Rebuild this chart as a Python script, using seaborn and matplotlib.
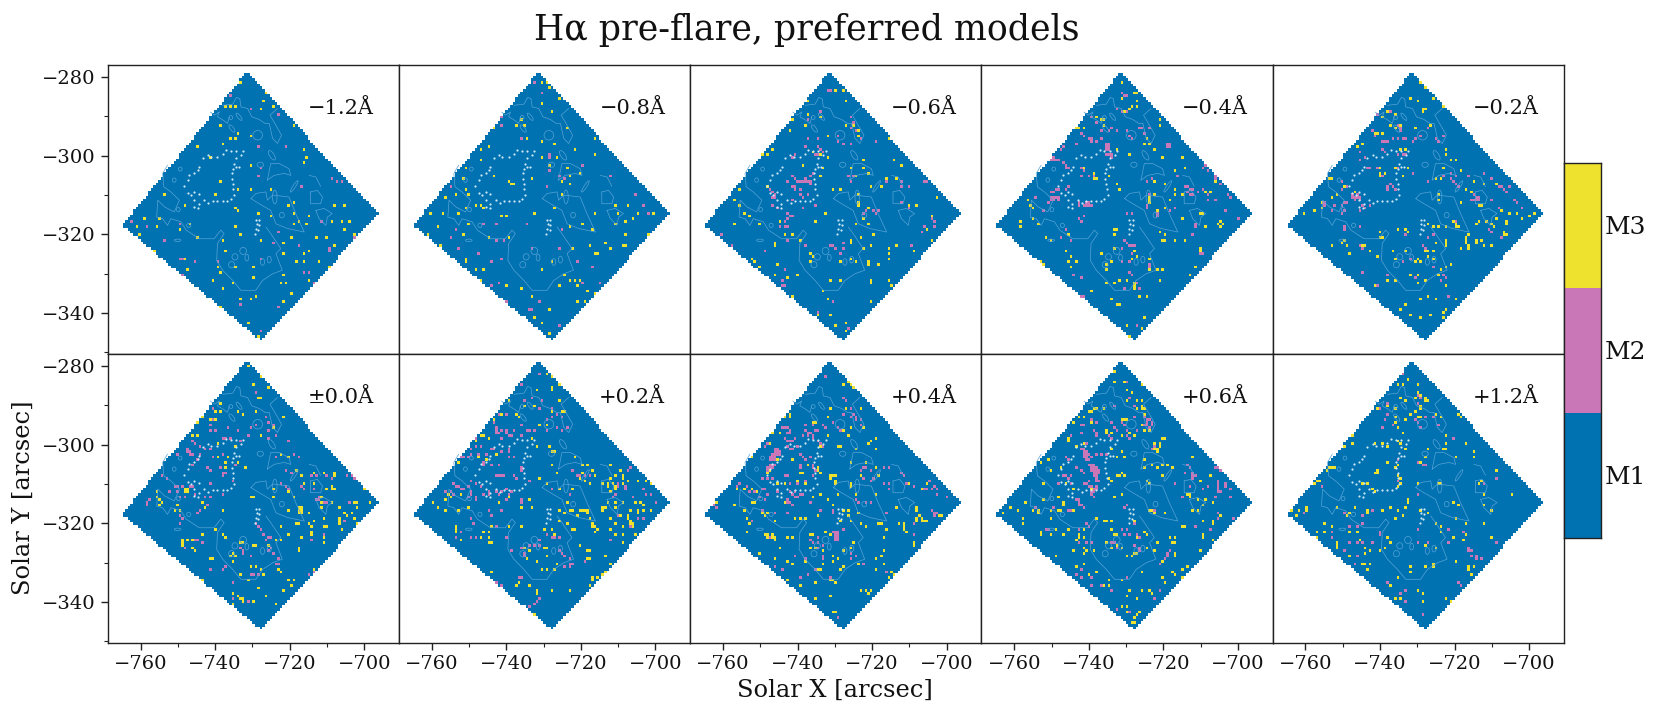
import numpy as np
import pandas as pd
import matplotlib
matplotlib.use("Agg")
import matplotlib.pyplot as plt
import seaborn as sns
from matplotlib.colors import ListedColormap
from matplotlib.patches import Ellipse
from matplotlib.path import Path

# field of view, solar coordinates in arcsec
xlim = (-768.85, -690.7)
ylim = (-350.35, -276.95)
diamond_x = [-764.9, -731.4, -696.2, -727.7]
diamond_y = [-317.7, -278.6, -314.8, -347.1]

x_major = [-760, -740, -720, -700]
x_minor = [-750, -730, -710]
y_major = [-280, -300, -320, -340]
y_minor = [-290, -310, -330, -350]

labels = ["−1.2Å", "−0.8Å", "−0.6Å", "−0.4Å", "−0.2Å", "±0.0Å", "+0.2Å", "+0.4Å", "+0.6Å", "+1.2Å"]
models = ["M1", "M2", "M3"]
colors = ["#0072B2", "#C977B7", "#EEE22E"]

# M3 (yellow) and M2 (pink) pixels, everything else is M1
m3_n12 = [(-733,-281.7),(-726.7,-283.8),(-727.1,-286.3),(-737.3,-287.4),(-735.8,-287.4),(-734.4,-287.4),(-728,-288.4),(-724.2,-287.4),
(-718.6,-292.5),(-738.6,-292.5),(-734,-294.2),(-736.2,-295.5),(-734.6,-295.5),(-730.6,-294.8),(-746.5,-295.6),(-738,-296.7),(-744.9,-297.6),
(-716.4,-298.2),(-715.2,-300.6),(-741,-300.7),(-716.4,-302),(-730.6,-302.3),(-738.8,-306.8),(-733.6,-308.5),(-730.6,-308.5),(-724.8,-308.5),
(-753.5,-310.2),(-739.8,-310.2),(-748.3,-312.6),(-734.6,-313.3),(-733.6,-314.3),(-720.2,-312.6),(-718.8,-311.7),(-728.4,-314.9),(-724.8,-315.4),
(-719,-314.9),(-717.6,-316.4),(-714.6,-315.4),(-707.9,-312.6),(-705,-312.6),(-715.7,-317.7),(-719.1,-317.1),(-708.9,-316.4),(-706.2,-316.4),
(-704,-317),(-758.7,-316),(-755.2,-316),(-761,-318.3),(-755.4,-317.8),(-749.2,-318.5),(-747,-317.2),(-760.4,-320),(-744.7,-320.5),(-734.4,-318.4),
(-733.5,-320),(-705,-319),(-713,-321),(-710.3,-321),(-708.3,-322.5),(-702.7,-320.4),(-719.7,-320.5),(-721.9,-322),(-727.8,-321.7),(-737.6,-321.7),
(-756.4,-323.9),(-737.3,-324.5),(-721.5,-324.6),(-715.9,-324.6),(-714.5,-324.5),(-748.3,-326.2),(-718.1,-326.7),(-716.3,-327.2),(-711.8,-326.8),
(-747.6,-329),(-739,-328),(-734.6,-328.3),(-730,-328.1),(-738.9,-329.5),(-740.8,-331.4),(-730,-330.8),(-721.9,-330.6),(-722,-332.5),(-720.8,-332.5),
(-738,-333.4),(-735.2,-332.1),(-719.7,-334.8),(-733.4,-336.6),(-730.7,-336.5),(-729.4,-336),(-721.9,-337),(-738.9,-338.4),(-731.3,-342.7),
(-728.4,-345.6),(-714.9,-331.5),(-709.6,-328)]
m2_n12 = [(-736.2,-284.5),(-730.6,-288),(-723.3,-289.7),(-728.4,-297.6),(-720.7,-297.6),(-727.6,-303.3),(-728.4,-305.1),(-717,-308),(-708.4,-305.6),
(-707.2,-306.8),(-706.1,-306.8),(-718.7,-312),(-762.6,-316.7),(-758,-318.3),(-749.4,-317.3),(-761.4,-320.5),(-753.5,-321.2),(-749.4,-326.4),
(-748.8,-326.4),(-745.6,-327.2),(-739.6,-327),(-749,-330.1),(-727.5,-326.3),(-724.2,-322.1),(-722.7,-319.5),(-717.6,-322.8),(-709.6,-324.2),
(-709.6,-323.6),(-705.1,-324.6),(-702.5,-321),(-716.2,-329.7),(-714.6,-329.7),(-713.7,-332.3),(-733,-337.6),(-722.7,-338.3),(-727.6,-344.5),(-711.1,-316.4)]

m3_n08 = [(-730.6,-281.7),(-728.8,-281.7),(-728.3,-282.9),(-725.4,-285.5),(-730.5,-286.8),(-727.7,-289),(-740.2,-286.8),(-739,-286.8),(-742.6,-291.4),
(-743.7,-293.1),(-737.5,-292.4),(-736.1,-290.7),(-735.4,-292.4),(-734.9,-292.4),(-734.5,-295.6),(-723.8,-293.1),(-730.5,-296.5),(-726.9,-296.9),
(-721.9,-298.2),(-716.2,-295.9),(-716.2,-299.5),(-746.6,-298.2),(-744.6,-297.4),(-746.6,-301),(-751,-302.8),(-730.2,-300.2),(-726.6,-300.2),
(-723.8,-303.1),(-720.1,-304.2),(-728.3,-302.4),(-743.1,-305.2),(-739.5,-306.2),(-738.8,-307.5),(-738.2,-307.5),(-733.5,-305.7),(-723.2,-305.4),
(-724.8,-306.4),(-722.8,-307.5),(-751.3,-305.7),(-750.6,-308.5),(-753.3,-310.2),(-756.2,-310.9),(-750.3,-310),(-750.9,-313),(-748.2,-312.6),
(-747.1,-312.6),(-746.4,-313.6),(-760.2,-314.9),(-756.9,-314.9),(-752.7,-314.9),(-741.3,-315.6),(-732.8,-314.6),(-758.4,-318.3),(-750,-317.7),
(-751.6,-320.2),(-761.3,-320.2),(-757.8,-322.9),(-739.9,-315.6),(-724.8,-310),(-719.6,-317.2),(-722.8,-318),(-717.2,-318.8),(-727,-313),
(-716.2,-314.8),(-711,-312.6),(-707.2,-312.6),(-704.4,-314.6),(-709.8,-315),(-711,-317.4),(-708,-316.6),(-705.8,-315.8),(-700.8,-314.8),
(-708.2,-320.4),(-702.2,-320.4),(-708.8,-322.8),(-708,-322.8),(-713.4,-322.2),(-711.8,-323.2),(-703.8,-322.8),(-716.4,-324.8),(-715.8,-324.8),
(-717.6,-322.6),(-722.6,-323.4),(-744.6,-320.6),(-739.2,-321),(-754,-326.2),(-751,-327),(-750.6,-326.4),(-748.2,-329),(-745.8,-329),(-730.6,-329.2),
(-727.4,-327),(-724,-330),(-723,-331.6),(-721.4,-331.8),(-720,-331.4),(-720.8,-333),(-726,-332.8),(-718.2,-334.2),(-716,-335),(-736.2,-334),(-733.4,-335.8),
(-721.2,-337.4),(-718.6,-337),(-718.2,-337.8),(-728.6,-339),(-732.8,-341),(-730.4,-342.7),(-728.6,-345.2),(-746.6,-331.8),(-740.2,-332.8)]
m2_n08 = [(-732.4,-281.7),(-730.4,-284),(-741,-290.3),(-741.6,-292),(-736,-295.3),(-728.3,-300),(-728.3,-300.7),(-728.3,-303.6),(-726,-305.2),(-725.4,-305.2),
(-719.6,-302.6),(-724,-305.8),(-712,-305.2),(-755,-307.6),(-729.1,-307.7),(-705.2,-310.2),(-703.4,-312.8),(-702.2,-315),(-746,-317.4),(-742.4,-317.6),
(-734.4,-317.4),(-753.8,-319),(-755,-320.6),(-742.6,-321.2),(-740.6,-321.2),(-725,-319),(-733,-323.4),(-726,-323.2),(-752.8,-323.2),(-744.2,-327),(-741.6,-326),
(-747.4,-324.6),(-721.2,-326.6),(-716.8,-328),(-705.2,-325),(-749.2,-332),(-743.8,-332.8),(-742.2,-332.2),(-733.8,-339),(-733.4,-339),(-731.2,-337.2),
(-725.6,-343.2),(-719.8,-332.6),(-714.8,-332.6),(-740,-336.8)]

m3_n06 = [(-729.8,-283.4),(-727.4,-283.6),(-727,-286.2),(-737.5,-285.8),(-742.6,-289.1),(-737,-289.2),(-741.2,-291),(-738,-292.4),(-742,-293.4),(-733.6,-290.3),
(-731.6,-295.1),(-727,-292.4),(-725,-292.4),(-723.4,-293.4),(-723.4,-295),(-715.8,-295.6),(-746.6,-298.2),(-749.5,-300),(-747.8,-300),(-731.8,-300.4),
(-735.6,-299.1),(-734,-300),(-725.5,-303.2),(-722.4,-303.2),(-733.3,-302.8),(-738.6,-302.4),(-722.4,-301.4),(-720.8,-304.5),(-716.1,-305.6),(-713.8,-305.5),
(-714.2,-300.8),(-712.2,-302.2),(-755.8,-308.4),(-747.8,-307.6),(-733.6,-305.2),(-724,-305.4),(-720,-308),(-717.6,-308),(-730.6,-308.6),(-728.4,-308.6),
(-723.4,-309.6),(-723.4,-312),(-723.6,-312.7),(-720.8,-313.5),(-722.2,-316),(-710,-312.6),(-708,-312.6),(-702.5,-310.4),(-757.2,-311.2),(-755.6,-312.6),
(-754.5,-314.4),(-753,-315.6),(-750,-317.2),(-757,-317.6),(-744.8,-316.4),(-743.4,-319.8),(-741,-320),(-739.4,-321.4),(-746,-321.9),(-746,-323),(-732.6,-314.6),
(-735,-316.8),(-724,-317.4),(-721,-317.5),(-719.8,-320),(-723.2,-320.8),(-725.6,-321.2),(-725.6,-322.4),(-722.4,-323.6),(-720.2,-322.7),(-715.4,-323.8),
(-715.4,-324.8),(-713.2,-322.6),(-708.8,-324.5),(-703.8,-321.4),(-705.6,-318.5),(-704.2,-315.2),(-752,-326.4),(-751.8,-327),(-750,-328.4),(-745.4,-327.4),
(-736.6,-325.2),(-736.6,-326.6),(-736,-325.6),(-728.4,-327.2),(-725.6,-326.3),(-724.2,-327),(-721,-327),(-721,-327.8),(-718,-327.4),(-715.8,-326.4),
(-742.8,-331),(-739.8,-330.3),(-746.2,-330),(-731,-331.8),(-728.2,-331.9),(-720.2,-331.9),(-720.2,-332.6),(-715.4,-332),(-714.8,-333.3),(-733,-334.4),
(-741.2,-335.6),(-731.8,-336.6),(-720.4,-337.4),(-719.4,-339),(-734.6,-340.6),(-731.4,-340.6),(-729.8,-342.9),(-727.2,-342.8),(-732.8,-345.2),(-727,-344.5)]
m2_n06 = [(-732,-283.4),(-731,-283.4),(-733.6,-289),(-737,-291),(-725.6,-290.5),(-725,-291.5),(-725.8,-293.1),(-724.2,-293.4),(-723,-295.5),(-729.4,-294.8),
(-728.8,-296),(-727.8,-296.7),(-726,-297),(-719,-296.2),(-737,-295.6),(-734.6,-295.5),(-737.7,-297.4),(-734.2,-298),(-733.8,-298.4),(-734.5,-299.4),(-735.2,-299.4),
(-733.4,-298.8),(-741.4,-300.2),(-740.6,-299.8),(-741.6,-305.2),(-740.4,-306),(-739.8,-306.6),(-739.2,-306.6),(-738.6,-306.8),(-738,-306.8),(-738,-306),
(-737.2,-306.4),(-736.6,-306.5),(-736.6,-307.2),(-736.6,-305.2),(-736.2,-304.8),(-741,-307.8),(-740.4,-307.8),(-742.4,-306.8),(-740.4,-308.5),(-739.4,-308.5),
(-747.6,-308.5),(-746.8,-309.4),(-746,-310),(-746,-310.8),(-747,-310.8),(-746.6,-312.6),(-745.4,-313.4),(-741.6,-311),(-739.2,-310),(-738.5,-310.6),(-737.4,-309.6),
(-741,-315.6),(-742,-315.6),(-743,-316),(-743.6,-316.7),(-742.4,-314.6),(-738.4,-313.2),(-735.5,-312.8),(-744.4,-318),(-743.6,-318),(-742.8,-318),
(-731.2,-323),(-730.6,-323),(-730,-323.2),(-727.4,-323.4),(-728.4,-325),(-727.8,-321.9),(-726.6,-305.2),(-725.2,-305),(-726,-306.4),(-721.8,-314),(-722,-315),
(-719.6,-314.2),(-719,-314.6),(-716.2,-306.6),(-712,-306.8),(-712,-307.8),(-710.4,-308.2),(-712.4,-312),(-710.2,-313.2),(-705.8,-306.2),(-705.2,-306.6),
(-704,-315.8),(-703,-316.7),(-703,-318),(-706,-318.2),(-707,-319.4),(-760.4,-320),(-757.6,-323),(-737.6,-322.6),(-743,-321.2),(-749,-324.4),(-743.6,-329),
(-744.2,-331.6),(-744.2,-332.7),(-743.4,-333),(-709.6,-322.8),(-718.2,-313.9),(-726.7,-343.6),(-726.7,-344.2),(-730.6,-337.3),(-734.3,-339.5)]

m3_n04 = [(-730.8,-281.6),(-728,-284.2),(-727.2,-284.4),(-730.9,-285.6),(-727,-286.4),(-727,-287.2),(-729,-288.2),(-728.2,-287.6),(-730.6,-288.8),(-739.4,-286.6),
(-741.4,-287.6),(-737.6,-290.4),(-736.6,-290.8),(-735.6,-290.8),(-736.2,-292.2),(-721,-290.8),(-720.8,-292),(-743.6,-293),(-742.4,-293),(-741.2,-292.8),
(-724.2,-295.6),(-723.6,-296.7),(-724.8,-297.2),(-722.6,-298.2),(-720,-300.6),(-714.6,-300.6),(-714.4,-303.2),(-716.8,-304),(-729,-299.6),(-732.5,-298.3),
(-738.8,-304.6),(-737.6,-306),(-738.8,-306),(-741,-303.4),(-734.2,-305),(-732.8,-307),(-731.8,-308.5),(-722,-306.4),(-719.8,-307.2),(-717,-308.4),
(-722.4,-310.2),(-723.8,-310.4),(-723.8,-311),(-723.8,-311.8),(-717,-309.8),(-718,-311.4),(-714.8,-309.8),(-709,-309.2),(-707.6,-309.2),(-706,-306.4),
(-756.4,-311.6),(-755.4,-312.4),(-755,-313.4),(-719.8,-313.6),(-721.8,-314),(-715,-316.2),(-710.4,-314.8),(-709.2,-314.6),(-704.6,-316.6),(-704.2,-317.6),
(-705.2,-317.6),(-704.6,-318.3),(-708.6,-318),(-758,-317),(-758,-318.3),(-753.6,-317.2),(-755.2,-316),(-751.8,-321),(-750.4,-321.2),(-745.6,-320.4),
(-733.4,-319),(-732.4,-319),(-733,-320),(-721,-319.6),(-719.6,-320.2),(-720,-321.4),(-719.4,-321.4),(-716.8,-321.4),(-710,-323.4),(-710,-324.5),(-746,-324),
(-744.6,-325.6),(-752,-327.4),(-752.6,-326.8),(-745.2,-327),(-743.6,-326.8),(-744.8,-328.4),(-736.4,-325),(-735.4,-327.4),(-735.4,-329),(-733.6,-327.2),
(-733,-323.8),(-727.8,-324.4),(-726.8,-325.4),(-728.2,-326.3),(-723.6,-326.3),(-721.6,-329),(-720.3,-329),(-723.8,-329.2),(-731.8,-331.4),(-730,-332),
(-733.2,-332.6),(-728,-332.6),(-727.8,-333.2),(-727.4,-333.6),(-735.4,-332.4),(-721,-331.5),(-712.8,-330.4),(-739,-334.6),(-733.8,-336.6),(-731.7,-337.8),
(-726.4,-336),(-724.5,-336),(-736.5,-342.7),(-736,-343.6),(-730,-343),(-729,-346),(-732.4,-337.6),(-726,-343.6),(-724.8,-341),(-714,-321.2),(-711.4,-328.4)]
m2_n04 = [(-730.8,-283.8),(-730.4,-284.6),(-730,-285),(-732.4,-288.2),(-731.2,-288.6),(-730,-288.8),(-739.4,-290),(-737.8,-291.6),(-736.4,-293.4),(-734.6,-293.4),
(-733.8,-292.6),(-732.2,-293.6),(-729.6,-293.4),(-729.2,-294.8),(-728.4,-295.6),(-726.6,-293),(-725.6,-292.6),(-725,-294),(-723.4,-293.2),(-742,-294.4),(-741.4,-295),
(-740.2,-295.4),(-739.6,-295.6),(-739.2,-296.6),(-738,-296),(-736.6,-295.8),(-743.4,-296.8),(-746.6,-297.6),(-747.6,-298.2),(-735,-297.3),(-734.4,-297.3),
(-735,-298),(-734.4,-298),(-735,-298.6),(-734.4,-298.6),(-735,-299.4),(-734.4,-299.4),(-733.8,-299.4),(-735,-300),(-734.4,-300),(-733.8,-300.6),(-718.8,-297),
(-718.2,-297),(-718.8,-297.6),(-718.2,-297.6),(-750,-300.2),(-749.4,-300.2),(-750,-300.8),(-749.4,-300.8),(-750,-301.4),(-749.4,-301.4),(-748.8,-301.4),
(-747.8,-301.4),(-747,-301.8),(-746.4,-302.4),(-746,-303),(-745.6,-303.4),(-742.2,-303),(-741.6,-304),(-742,-305),(-740,-305.4),(-738.6,-305),(-708.8,-302.6),
(-709.4,-303.2),(-708.2,-303.6),(-722.8,-305.8),(-724.4,-306.4),(-716,-305.2),(-748,-308.4),(-749,-308.8),(-749.6,-309.2),(-750.4,-309.2),(-746.4,-308.4),
(-745.4,-307.6),(-750,-310.4),(-749.4,-310.4),(-748.8,-310.4),(-748.2,-310.4),(-748.2,-311),(-749.4,-311.4),(-750,-311.4),(-750.8,-312),(-743,-312),(-742.4,-312.6),
(-741,-312.8),(-740.4,-312.8),(-739.8,-312.8),(-739.2,-312.4),(-740.4,-312.2),(-739.8,-312.2),(-752,-313.8),(-754,-310.6),(-741.4,-315.6),(-742.8,-316),
(-742.2,-317),(-729.6,-314.8),(-728.6,-314.4),(-724.6,-313),(-724,-312.8),(-723.8,-310),(-721.8,-313.8),(-721.8,-315),(-721.8,-315.6),(-718,-314),(-717,-313.2),
(-714.2,-308),(-713.4,-308),(-712.8,-308.6),(-713.4,-309.2),(-712.6,-309.6),(-712,-310),(-711.8,-308.6),(-710.6,-309),(-709.4,-308.4),(-708,-310),(-706,-305.4),
(-706,-306),(-704.6,-307),(-702.8,-309.6),(-701.8,-310.4),(-708.2,-311.6),(-705.8,-311.6),(-703,-314.2),(-700,-316),(-711.4,-317.4),(-711.4,-318),(-711.8,-320),
(-730.4,-321.4),(-729.6,-322.2),(-729,-322.8),(-728.2,-323),(-727.4,-323),(-731,-323.8),(-728.6,-324.8),(-710.2,-324.6),(-709.4,-324.6),(-709.4,-325.2),
(-747.4,-320.8),(-746,-318.6),(-744.8,-321.8),(-731,-327.2),(-729,-327),(-723.6,-327.6),(-723.4,-328.4),(-729,-329.4),(-728.4,-330),(-727,-332.6),(-726.5,-333.5),
(-743.8,-330),(-742,-331),(-741.8,-335.6),(-741.2,-336),(-741.8,-336.4),(-730.6,-333.6),(-727,-343.4)]

m3_n02 = [(-728.6,-281.7),(-729.2,-281.7),(-727.4,-283),(-732,-285.4),(-730,-286.2),(-725.8,-285.2),(-723.2,-287.2),(-728.5,-288.2),(-728,-288),(-727.5,-288),
(-728.5,-289),(-737.8,-289),(-739,-290.2),(-735.8,-289.4),(-737.2,-292.2),(-736.2,-293.2),(-734.2,-292),(-730.6,-292.8),(-718.8,-291),(-726.7,-292.2),
(-741.4,-294.2),(-740.6,-294.6),(-739.4,-294.6),(-748,-298),(-746,-297.8),(-744.4,-297),(-722.6,-298.4),(-722.2,-299.4),(-734.4,-298.4),(-733.4,-298.4),
(-720.8,-301.2),(-719.4,-301.2),(-732.8,-303.2),(-739.8,-303),(-740,-304.2),(-738.6,-304.2),(-739.8,-305),(-736,-303),(-733.8,-305),(-722.8,-303.4),(-723.8,-306),
(-753.8,-305.6),(-752.6,-305.6),(-725,-306),(-718,-303.8),(-715,-306.6),(-712.4,-307.4),(-712,-307.4),(-716.8,-308.6),(-715.4,-309.4),(-708.8,-307.2),
(-749.8,-308.2),(-751.4,-309.8),(-746.8,-309.4),(-753,-310.6),(-724.6,-310),(-724.6,-311),(-724.6,-311.6),(-718.2,-312.2),(-713,-312.4),(-713.2,-312.4),
(-755.6,-312.2),(-755.6,-313),(-757.8,-314),(-760.4,-315),(-707.6,-313.8),(-705.2,-314.6),(-703,-314.6),(-708.4,-316),(-706.2,-316.6),(-706,-317.4),(-702.2,-316.2),
(-698.2,-314.8),(-700,-315.4),(-733,-318.6),(-735,-318.8),(-732.2,-319.2),(-727,-317.6),(-725.8,-318.4),(-724,-318.4),(-722.2,-318),(-720,-316.6),(-719.5,-317.2),
(-718.6,-317.8),(-719.6,-318),(-714,-317.6),(-713.2,-317),(-711.4,-316.8),(-710,-317.6),(-709.6,-318),(-706.6,-319.6),(-706.4,-320.2),(-705.8,-320.4),(-716,-320),
(-716.6,-320.8),(-717,-321.6),(-717,-322.2),(-715.9,-322.6),(-715.9,-323.2),(-718,-323.4),(-714.2,-321.4),(-714,-322.4),(-712.6,-321.6),(-712.4,-322.8),(-710,-323),
(-739.8,-319.6),(-739.4,-320.8),(-740.2,-321),(-749.8,-321.6),(-749,-322.8),(-750,-322),(-752.8,-322.6),(-744.2,-322.8),(-744.8,-323),(-743,-324.4),(-736.8,-324.4),
(-735.8,-326.2),(-733,-324.4),(-728,-324),(-726.8,-324),(-725.6,-324.2),(-729,-326.6),(-730,-326.4),(-730.2,-327.2),(-727.2,-325.6),(-725.6,-326.2),(-722,-321.2),
(-722,-322),(-722,-322.8),(-725.2,-322),(-748,-324.6),(-754.4,-326.2),(-740.4,-325.6),(-720.8,-327.6),(-722.6,-328),(-723.6,-329),(-724.2,-330),(-731.6,-330.4),
(-729.6,-330.4),(-728,-331.6),(-730,-332.6),(-722.4,-333.2),(-741.6,-333),(-738.2,-331.4),(-735.6,-331.4),(-729.2,-336.6),(-726.8,-336),(-725,-336.2),(-733,-337.5),
(-719.4,-336.4),(-722.6,-339),(-722.8,-340),(-722.8,-341),(-734.8,-339),(-731.5,-340.2),(-726.4,-340.5),(-729.3,-341.5)]
m2_n02 = [(-737.4,-289),(-740.4,-289.8),(-735.2,-292.4),(-734.4,-292.6),(-734.2,-293.4),(-742.2,-293.4),(-741,-295),(-739.6,-296),(-738.8,-296.4),(-737.8,-296.4),
(-736.6,-295.6),(-735.4,-295.6),(-733.8,-295.5),(-733.2,-295.4),(-731,-296),(-730.2,-295.6),(-729.2,-295.2),(-726.8,-293),(-725,-295.4),(-724,-296),(-723,-295),
(-749,-298),(-747.6,-297.2),(-745.4,-298.8),(-745.4,-301),(-743.8,-300.4),(-739.2,-298.4),(-738.6,-298.8),(-735,-299.8),(-734,-299.8),(-733,-300),(-742.6,-302.8),
(-743.4,-303.4),(-740.4,-303),(-739.2,-305),(-735,-303.4),(-731,-304.4),(-721.2,-304.6),(-721,-306),(-727,-306.2),(-722.8,-305.2),(-719.6,-305),(-720,-306.6),(-719.4,-307.4),
(-718.8,-307.8),(-716,-305),(-711.8,-304.6),(-710,-306),(-708.2,-308),(-707.4,-308.2),(-706.8,-308.8),(-706.2,-309.4),(-705.4,-307.6),(-750.4,-306.8),(-749,-308.2),
(-750.4,-308.6),(-738,-307.8),(-737.2,-307.4),(-736.6,-307.6),(-738.2,-308.6),(-736,-308.4),(-747.4,-310),(-746.8,-310.4),(-746.2,-310),(-745.6,-310.4),(-747.2,-310.8),
(-746.2,-310.8),(-746.8,-311.4),(-745.2,-311),(-749.6,-311.8),(-749,-312.2),(-752,-312.4),(-750.2,-312.8),(-745,-312.8),(-744,-313.2),(-742.6,-312.6),(-745.2,-314),
(-755,-311.8),(-755.2,-312.8),(-752.6,-314),(-749.4,-313.8),(-750,-315),(-714.8,-310),(-714.2,-310.4),(-713.4,-310.6),(-714.8,-311),(-714.2,-311.2),(-713.4,-311.4),
(-715.6,-311.6),(-710.2,-311.4),(-708.2,-313),(-704,-311.2),(-703.2,-312),(-702,-313.4),(-703.4,-315),(-719.6,-316.4),(-719.5,-317),(-711,-319),(-710.2,-319.6),
(-707.2,-320.8),(-749.8,-317.8),(-749.6,-318.6),(-745.2,-318),(-733.4,-320),(-727,-320.6),(-725.6,-320.4),(-745.4,-322.8),(-745,-323.6),(-728.6,-322.6),(-727.8,-323.8),
(-732,-326),(-731.5,-326.5),(-733.6,-327),(-730.6,-327),(-726,-328),(-723,-330),(-722.4,-331),(-723.4,-331.8),(-730.6,-331),(-745,-329.8),(-744.4,-329.8),
(-740.8,-333),(-738,-330.6),(-749,-335),(-737.2,-340.2),(-721.7,-336)]

m3_00 = [(-731,-278.9),(-730.8,-279.8),(-728,-282.6),(-729.8,-284.7),(-725.4,-285.6),(-728,-288.2),(-728.6,-288.2),(-738.8,-289.4),(-739.8,-291.4),(-738.6,-291.6),
(-733.8,-291.6),(-732.4,-292),(-729,-291.8),(-721.6,-293),(-741,-293.9),(-740,-293.9),(-743.2,-293.2),(-745,-294.2),(-724.2,-295.6),(-748.6,-296.4),(-749.4,-299),
(-750.4,-300.2),(-745.8,-298),(-744.4,-297.8),(-739.6,-299.8),(-739.6,-302.8),(-736.6,-303),(-734.6,-300.4),(-727.4,-298),(-722.4,-302.2),(-720.2,-303.4),(-731.6,-306),
(-733.6,-304.6),(-737,-304.4),(-737,-305.6),(-718.2,-306.6),(-716.6,-307.8),(-713.6,-307.4),(-710.6,-307.2),(-708,-308.2),(-708.2,-307.4),(-748,-311.6),(-747.4,-311.6),
(-748,-312.2),(-747.4,-312.2),(-720.5,-312),(-719,-313),(-724.4,-311.6),(-724,-313.4),(-730.5,-313.6),(-730,-313.6),(-716,-310),(-713.4,-310),(-710.4,-311),(-708.8,-311),
(-708,-311.2),(-709,-310.4),(-699.6,-311),(-711.6,-313.4),(-711.6,-315),(-708.4,-314.6),(-706.8,-316),(-702.4,-314.6),(-701.6,-314.6),(-701.8,-316),(-698.2,-314.8),
(-755.4,-312),(-755.4,-313),(-754.6,-314),(-754,-314.8),(-754.6,-315.6),(-750,-315.6),(-749.6,-316.4),(-751,-316.6),(-743.2,-315),(-742.6,-316),(-738,-316.4),
(-717.6,-316.2),(-717,-316.2),(-717.6,-316.8),(-717,-316.8),(-717.6,-317.4),(-717,-317.4),(-720.2,-317),(-715,-317.4),(-711.6,-316.2),(-705,-317.6),(-704.6,-318),
(-703.6,-317.6),(-706.8,-318.6),(-706.8,-319.2),(-706.8,-320),(-701.8,-320.4),(-702.8,-318.8),(-711,-319),(-713.2,-319.4),(-715,-320),(-717.4,-320.2),(-718.4,-319.8),
(-714.2,-321),(-714.2,-322),(-714,-323),(-711,-321),(-709.8,-320.6),(-706.2,-321.4),(-711,-323.6),(-711,-324.6),(-716.6,-323.6),(-720.6,-323),(-722.4,-321),(-722,-324),
(-748.5,-324.3),(-748.5,-325),(-748.5,-325.7),(-747.2,-324),(-746.4,-324),(-746,-326),(-745.2,-326.8),(-739.8,-321.2),(-743.4,-323),(-738,-322.8),(-737.4,-323.2),
(-733.4,-325),(-732.4,-325),(-730,-325.4),(-729.4,-325.6),(-725.8,-325.4),(-723.6,-324.4),(-717.6,-326),(-717.6,-326.6),(-736,-328),(-735,-327.6),(-734.4,-328.6),(-735,-329.6),
(-741,-329.2),(-740.4,-329.2),(-730.6,-330.7),(-729,-331),(-728,-332),(-727,-333),(-723,-331.4),(-722.6,-332.6),(-711,-330),(-713.2,-332),(-714,-333.8),(-719,-334.4),
(-720.4,-334.6),(-719.6,-336),(-731.4,-334.6),(-733.4,-333),(-728.4,-336.4),(-747.4,-333.6),(-743.6,-334.6),(-735.2,-337.6),(-733.8,-338.2),(-733.4,-339.2),(-732.8,-339.2),
(-729.8,-339.8),(-726.2,-338.2),(-723.8,-340.2),(-721.6,-337),(-735.2,-340.6),(-732.4,-340)]
m2_00 = [(-729,-286.8),(-740.2,-287),(-740.6,-290.6),(-740.6,-293.8),(-741.2,-295),(-739.8,-296),(-741.2,-296.4),(-736.4,-295.6),(-733.6,-296),(-730.6,-295.8),(-729.4,-294.8),
(-726.6,-292.6),(-725.6,-294),(-724.6,-294.8),(-725.6,-296),(-747.2,-297),(-746,-298.8),(-745.6,-299.6),(-744,-300.6),(-742.4,-300.8),(-741,-300.8),(-738,-298.6),(-737,-298.2),
(-736,-298.4),(-733,-298.8),(-731,-297.8),(-723.4,-297.8),(-726,-298.6),(-720.6,-298.8),(-747.6,-301),(-747,-301.6),(-747.6,-302),(-747,-302.4),(-746.2,-302.2),(-750.4,-302.6),
(-744,-302.6),(-740.8,-303.4),(-739,-303.4),(-738,-302.4),(-744.6,-304),(-746,-305),(-742,-305.6),(-741,-306.4),(-738.4,-306),(-734.2,-305),(-723.6,-302.8),(-719,-302.2),
(-717.6,-303.4),(-720.8,-306.6),(-719.6,-307),(-714.4,-308.2),(-713,-307.8),(-710,-308.2),(-709,-308.8),(-708,-307.8),(-704.4,-307.8),(-703.6,-307.8),(-702.8,-308.8),
(-738,-307),(-737,-307.4),(-738,-308.2),(-735,-309.5),(-741,-310),(-754.2,-308),(-752.6,-308.5),(-751,-310.4),(-750,-310.4),(-749,-310.4),(-746.8,-310.6),(-746,-310.8),
(-752,-312.2),(-750.4,-312),(-749.8,-313),(-747.8,-313),(-738,-312.6),(-745.2,-312.8),(-743,-313.2),(-741.4,-313),(-722.2,-310.2),(-721.2,-310.8),(-720.2,-311.4),
(-716.6,-310.6),(-716,-311.4),(-713.2,-311.4),(-712.4,-313),(-713,-313.8),(-711.8,-314),(-711,-314.8),(-710.4,-315),(-724,-311),(-757.6,-313.8),(-758,-314.6),(-758.5,-315.6),
(-745,-317.4),(-744,-317),(-741.8,-315.6),(-749.4,-318),(-749,-318.8),(-749.4,-319.8),(-749.8,-320.4),(-729.2,-320),(-728.4,-321),(-727.4,-321.6),(-726.8,-322.8),
(-725.8,-323.2),(-726.6,-324),(-724.8,-323.8),(-711,-322.6),(-714.2,-324),(-711,-325),(-705.2,-319.2),(-703.8,-315),(-745.6,-324),(-744.6,-324.2),(-743.6,-325),
(-733.2,-326.4),(-732.8,-327),(-732.8,-327.8),(-730.6,-328),(-725,-326.2),(-726,-327.2),(-724,-327.8),(-723,-329),(-723,-330),(-723.6,-330.4),(-730.6,-332.8),(-730,-332.8),
(-728.6,-333),(-715,-332.8),(-713.4,-332.6),(-713.6,-333.2),(-741.6,-331.6),(-737,-331),(-738,-332),(-748.4,-326.4),(-735,-335),(-735,-339),(-731.4,-339.6),(-730,-339.8)]

m3_p02 = [(-729.2,-281.9),(-727.8,-283),(-725.8,-284.8),(-725,-284.8),(-732,-286.2),(-727.6,-286.2),(-727.6,-285.2),(-726,-288.6),(-741.8,-289),(-739,-288.8),(-725,-291.4),
(-724.4,-291.8),(-727.4,-291.8),(-732.4,-290.4),(-735,-290),(-737.4,-292.4),(-736.4,-292.6),(-741.4,-292.2),(-743.2,-293.8),(-729.4,-295),(-731.4,-294.8),(-747.4,-296.8),
(-746.8,-297.4),(-746.4,-297.4),(-746,-297.8),(-744.8,-298.4),(-750,-298.8),(-748.4,-299),(-733.4,-298.6),(-731.8,-300.4),(-728.2,-300.4),(-727.8,-301.6),(-727,-301.6),
(-721.8,-303),(-747.2,-303),(-745.6,-303.6),(-743,-302.4),(-753.8,-303.8),(-752.8,-304.6),(-754,-305.4),(-728,-305),(-726.2,-307),(-719.6,-305),(-718.2,-305),(-719.4,-307.2),
(-716.8,-306.4),(-716.4,-308),(-712.4,-305.2),(-709.4,-306.4),(-711,-308),(-709,-308.4),(-708.4,-307.6),(-707.6,-309),(-708.6,-309.6),(-712.2,-308.8),(-713,-309.6),(-712.8,-310.4),
(-711.4,-310),(-711,-310.8),(-714,-310),(-704.6,-309.4),(-702.4,-309),(-701.2,-310),(-711,-311),(-712,-312),(-731,-308.4),(-729.4,-310),(-725.6,-311.4),(-722,-311),(-720,-308.6),
(-718.6,-309),(-717.6,-309.6),(-755.6,-312.6),(-755,-313.4),(-756.6,-314),(-752,-312.6),(-760,-315),(-711,-314.4),(-708.8,-314.6),(-712.8,-315),(-714,-315.8),(-714,-316.4),
(-713.2,-315.8),(-711,-316),(-705,-315),(-703.8,-314.4),(-703,-315.6),(-703,-316.4),(-701.4,-316.6),(-704.6,-316.4),(-706.4,-316.8),(-704.6,-317.6),(-758.4,-316.2),
(-756.6,-316.6),(-752.6,-317),(-750,-316),(-742,-314.6),(-739,-313.6),(-736.2,-316.2),(-734,-313.8),(-733,-315.8),(-723.4,-315),(-722.8,-316.4),(-722,-317),(-726,-316.8),
(-724,-317.6),(-720,-316.4),(-719.4,-316.4),(-718.8,-316.4),(-718,-316.4),(-719.4,-317),(-718.8,-317),(-718,-317),(-718,-317.6),(-720.8,-318),(-717.8,-319),(-717.2,-319.8),
(-717.2,-320.6),(-716.4,-321),(-715.6,-321.4),(-716,-322),(-725.4,-319.6),(-723.6,-320.4),(-722.6,-321.4),(-721.8,-321.4),(-729.6,-321.4),(-728,-321.2),(-726.8,-322.8),
(-712,-319),(-710.8,-320),(-709.4,-318.4),(-707.4,-318.4),(-707.2,-319),(-706.8,-319.6),(-706.2,-320.2),(-706.8,-320.2),(-706.2,-320.8),(-708.6,-320.8),(-712,-321.6),
(-711,-322.6),(-709,-323),(-708.4,-324.6),(-708.4,-325.2),(-705.6,-323),(-753.8,-321),(-753.8,-321.6),(-753.8,-322.2),(-745,-321.9),(-745.8,-322),(-745,-323.8),(-746.8,-323.8),
(-744.8,-324.6),(-743.8,-324.6),(-752,-324.4),(-735.8,-321),(-739.6,-320.6),(-744,-321),(-729,-326),(-730,-326.2),(-733.6,-327),(-735,-326.2),(-720,-325.4),(-718,-327),(-717.6,-327),
(-718,-329),(-717.4,-329),(-713.2,-328.6),(-712,-330),(-734.8,-329.2),(-743.8,-332.6),(-732,-329.6),(-729,-328.4),(-729,-331.4),(-727.2,-331.6),(-726.4,-330.4),(-730.2,-332),(-713.4,-332.2),
(-714,-333.2),(-715.4,-333.8),(-716.8,-333.6),(-717,-334.6),(-717.6,-336),(-715.6,-335.4),(-713.8,-337.6),(-713.8,-338),(-736.6,-334.8),(-737,-335.8),(-733.8,-336),(-732,-337.4),
(-732,-337.8),(-728,-337.4),(-722.8,-337.4),(-716.4,-339.4),(-737.6,-339.4),(-735,-341),(-732.6,-343.4)]
m2_p02 = [(-731,-282),(-729.4,-282),(-736,-285),(-741,-286),(-735.4,-289),(-741.8,-289.4),(-733,-288),(-730.6,-289),(-731,-290.8),(-727.8,-291),(-726.4,-292),(-728,-292.8),(-729.4,-293.4),
(-725,-293.2),(-742,-292.4),(-741,-292.4),(-740.2,-292.4),(-743.2,-294.4),(-742.6,-295.6),(-742.6,-296.2),(-742.2,-297),(-741,-296.6),(-740.2,-296.4),(-740.2,-297),(-743,-297),
(-738.2,-296),(-735.8,-295.2),(-734.6,-296),(-733.8,-296.6),(-735.6,-297.4),(-732.8,-296.4),(-729,-296),(-726.4,-295.4),(-725.2,-296),(-723.6,-295.8),(-749.6,-297.4),(-748,-298.6),
(-741.6,-298.4),(-739.6,-298),(-738.6,-297.6),(-749.4,-301),(-748.2,-300.4),(-746.8,-300.6),(-744,-301.4),(-743.4,-301.4),(-741.2,-302),(-739,-301.2),(-739,-302),(-739,-302.8),
(-738.2,-303.2),(-752.8,-303.4),(-752,-303.4),(-751.2,-303.4),(-750.4,-303.4),(-749.4,-302.6),(-747.6,-302.6),(-745.4,-302.6),(-756.4,-303.6),(-755.4,-303.6),(-754.4,-303.8),
(-746.4,-304.6),(-746,-305.4),(-743.8,-305),(-741.8,-305),(-735.6,-305.6),(-735.6,-306.4),(-742.4,-307.6),(-741.8,-307.6),(-741.2,-307.6),(-740.6,-307.6),(-738.2,-307.8),(-737.2,-308.4),
(-722.2,-306.6),(-721,-307.6),(-720,-307.6),(-718.8,-308),(-717.6,-308),(-707.6,-306.6),(-706.8,-305.8),(-749.2,-309),(-748,-310),(-746.6,-310.4),(-758.2,-308.4),(-754,-309.6),
(-753.8,-310.4),(-752.8,-310.8),(-752,-311),(-751.2,-311.4),(-750.4,-310.8),(-749.8,-312),(-749.2,-312.6),(-748.2,-313),(-746.4,-312.6),(-745,-312),(-744.4,-312.6),(-743,-312),
(-742,-312.6),(-741,-312),(-740,-311.6),(-739.4,-312.6),(-738.6,-312),(-756.2,-311.8),(-755,-311.8),(-754,-312.4),(-750,-313.2),(-748.4,-314),(-741.8,-315),(-739.8,-314),
(-735.8,-314),(-735.8,-315),(-733.6,-309),(-727.8,-311),(-723.2,-312.6),(-709.8,-309.8),(-709.8,-310.6),(-707.8,-310.8),(-707.8,-311.6),(-703.6,-311.4),(-702.6,-312.4),(-701.4,-312.6),
(-711.2,-313.6),(-710.6,-312.4),(-705.8,-313.4),(-700,-315),(-745,-317),(-744,-317.8),(-741.4,-316.6),(-749.6,-318.8),(-748.6,-320),(-744,-320.6),(-743,-321),(-710,-318),(-704.6,-319),
(-703.4,-319),(-707,-321),(-753.6,-323.4),(-752,-322),(-749.6,-323.4),(-748,-323.8),(-729,-322.6),(-728,-323.2),(-727,-323.8),(-726,-323.6),(-739.8,-323.6),(-731,-324),(-736,-326),
(-734,-325.4),(-732.8,-325.4),(-731,-325.4),(-712,-324),(-738.4,-327),(-735,-327.6),(-735,-328.2),(-726,-326.6),(-725.2,-327.6),(-724,-328),(-723,-329),(-723,-330),(-723,-330.8),
(-724,-331),(-722,-330.6),(-719,-329.8),(-736,-333.4),(-736.8,-334),(-742.4,-335),(-741,-336),(-732.6,-340.8),(-732,-340),(-731,-339.4),(-733.6,-341)]

m3_p04 = [(-726.6,-283.8),(-726,-284.6),(-725.6,-285),(-727.6,-284.8),(-725,-285.6),(-743,-290),(-742.4,-290.4),(-731,-291.2),(-726.8,-290.8),(-723,-290.8),(-743.6,-292.6),(-742,-292.6),
(-745.6,-293),(-741.8,-292.4),(-735.8,-294),(-735,-294),(-732,-293),(-746.6,-295),(-746,-295.8),(-748,-296.8),(-746.6,-297),(-745,-296.8),(-731.6,-298),(-727.6,-296),(-725.6,-295.4),
(-722.2,-295.6),(-726.6,-297.8),(-749,-298.2),(-747.4,-299.4),(-733.8,-300.6),(-729.4,-300.6),(-728.4,-300.6),(-724.4,-301),(-721,-300),(-720,-299),(-718.8,-298.4),(-719,-301),
(-752,-303),(-745.6,-303.6),(-741.2,-303.6),(-726,-304.2),(-721.6,-304.8),(-719,-305.6),(-737.4,-305),(-734.4,-305.6),(-739.4,-307),(-738.6,-307),(-734.6,-306.8),(-733.6,-307.4),
(-747.2,-306.8),(-748,-307),(-722.8,-307.8),(-718.2,-307.8),(-731,-308.2),(-730.4,-308.2),(-729.8,-308.2),(-731,-308.8),(-729.8,-309.4),(-730,-310),(-725.4,-309.6),(-725.4,-310.4),
(-738,-310),(-739.8,-309.2),(-745.6,-310),(-743.4,-310),(-752,-311.2),(-754,-311.6),(-756,-311.6),(-750.6,-312),(-729.2,-312.4),(-724,-312.4),(-718.8,-312.6),(-710.4,-310.2),
(-707,-311),(-705.4,-310),(-751.6,-314.6),(-752.2,-315),(-743.4,-314.4),(-735.6,-313.2),(-733.6,-312.6),(-731.8,-314),(-762,-315),(-756.8,-315.6),(-754,-316.8),(-749.4,-317.2),
(-748.4,-317.2),(-749,-317.8),(-730.4,-315.6),(-728,-316.4),(-727.4,-316.4),(-726.6,-316.4),(-726.2,-318),(-723.4,-317.6),(-713.8,-316),(-708,-316.2),(-707.8,-317),(-707.6,-317.8),
(-707,-318.6),(-707.8,-318.6),(-707,-319.2),(-706,-319.2),(-705.4,-319.4),(-707.8,-319.4),(-702,-318.4),(-701,-318),(-700.2,-318.8),(-700.2,-319.4),(-753.6,-318.6),(-753,-320),
(-746,-319.4),(-740.6,-319),(-739.2,-319),(-738,-318.6),(-734.6,-318),(-728.4,-319.6),(-726,-319.6),(-723,-320.4),(-721.6,-320.6),(-718.4,-320.4),(-717.4,-320),(-713,-320),(-711.6,-320),
(-711.4,-320.6),(-711.4,-321.4),(-711,-322),(-716.2,-321.4),(-753.4,-322),(-749,-322.8),(-748.2,-322.8),(-747,-323),(-746,-323.2),(-748.2,-323.6),(-747,-323.6),(-746,-324),
(-741,-323.2),(-743,-323.6),(-736.6,-322.6),(-735.6,-322.6),(-732.4,-322),(-730.8,-322.8),(-716.8,-323.6),(-708.4,-325),(-708.4,-325.8),(-736.4,-326.4),(-735,-326),(-733.2,-327),
(-730.6,-328.6),(-730.6,-329.4),(-729,-329),(-727.8,-327.2),(-726,-326),(-724.8,-325.2),(-717.8,-328),(-717.2,-327),(-718.6,-329),(-716.8,-330),(-744.6,-326),(-750,-327.6),(-746,-329),
(-743,-329.4),(-741,-330),(-738,-329.4),(-733,-330.4),(-734.2,-331.8),(-733.6,-331.8),(-728.6,-331.6),(-727.6,-331),(-723.8,-330),(-719,-331.4),(-714.8,-332.6),(-714.2,-333),(-715.8,-333.4),
(-715,-335),(-735,-335),(-731,-334.4),(-730.2,-334.4),(-729.6,-334.8),(-723,-337),(-721.8,-337),(-720.6,-337),(-720.8,-337.6),(-735,-339),(-734.6,-341.8),(-731,-338.6),(-730.6,-342.4),(-729.8,-342.4),
(-743,-334.4),(-745.6,-333.8),(-739.6,-335.4)]
m2_p04 = [(-738.4,-284.6),(-732.4,-283),(-727.8,-288.2),(-727,-288.6),(-726,-291),(-725,-292),(-725.8,-293),(-724.6,-293.6),(-724,-293),(-723,-293.6),(-723,-295),(-727.6,-292.2),(-738.2,-295),
(-738,-296),(-735.6,-295),(-735,-296),(-734.2,-296),(-733.2,-295),(-732.4,-295.6),(-730.4,-294.6),(-729.4,-295.6),(-728.6,-296.4),(-744,-295.4),(-743.2,-295.4),(-742.6,-295.4),
(-742,-296),(-743,-296.8),(-742,-297),(-738.4,-297.4),(-737.4,-297.2),(-736.4,-297.2),(-736,-297.8),(-737,-297.8),(-736,-298.4),(-734.4,-298.8),(-733.6,-299.6),(-733.4,-300.6),
(-743.4,-298.2),(-742.6,-298.8),(-742,-298.8),(-741.6,-299.2),(-740.4,-298.6),(-749,-300.4),(-748,-300),(-747.2,-300),(-742.6,-300.4),(-741.8,-300.8),(-741,-301),(-740,-300.4),
(-746,-301),(-745.4,-301),(-746.4,-301.6),(-745.6,-301.6),(-744.8,-301.8),(-746.6,-302.4),(-746,-302.4),(-745.4,-302.4),(-744.8,-302.4),(-747.4,-303),(-746.6,-303),(-746,-303.4),
(-747.6,-303.6),(-747,-303.6),(-746.4,-304),(-747.6,-305),(-747,-305),(-746.4,-305),(-748,-305.6),(-747.4,-305.6),(-748,-306.2),(-747.4,-306.2),(-746.8,-306),(-739.2,-302.6),(-738.8,-303),
(-738.2,-303.6),(-736.4,-303.2),(-735.6,-305),(-735.6,-305.8),(-735.4,-306.6),(-739,-305),(-739,-306),(-743.4,-307.6),(-743,-308),(-747.8,-308.4),(-746.8,-308.4),(-758,-308.4),(-755.4,-309.8),
(-749.4,-308.4),(-743.6,-309.8),(-742,-310),(-740,-310),(-738,-309),(-736,-308),(-722,-305.6),(-721.4,-306),(-722.8,-306.6),(-720,-306.6),(-716.6,-306),(-715.2,-305.6),(-712,-307),(-711.2,-308),
(-704.8,-309),(-703.6,-310.4),(-722.4,-308.6),(-720.4,-309),(-719.6,-308.4),(-716.6,-309.6),(-715.6,-310),(-715.6,-311.6),(-710.8,-309.8),(-708.4,-310.6),(-706,-311),(-705.4,-311.6),(-703.8,-311),
(-702.4,-311),(-702.4,-312.4),(-700,-313),(-756.4,-310.6),(-753.8,-310.8),(-752.8,-311.8),(-751.6,-312),(-749.8,-311),(-749,-311),(-748.4,-312.6),(-750.2,-313),(-748.8,-313.8),(-745.6,-312.2),(-742,-312),
(-741,-312.4),(-740.4,-312),(-738.4,-312.4),(-739.2,-312.8),(-740,-313),(-740.4,-313.6),(-742.4,-313.8),(-741.8,-314.6),(-742.6,-315),(-743.6,-315),(-741.4,-315.4),(-724.6,-313.8),(-723.4,-314.4),(-721.4,-314.4),
(-720.6,-314.4),(-762.4,-315.6),(-762,-316),(-749.6,-317),(-746,-317.6),(-742.6,-317.4),(-736.4,-315),(-733.6,-316.6),(-730.6,-316.4),(-730.6,-317),(-730.6,-317.6),(-716,-317.6),(-704.2,-316.4),(-703.4,-317.4),
(-702.8,-317.2),(-703.4,-318),(-752,-319.6),(-709,-320),(-730.4,-322.2),(-729.6,-322.2),(-728.8,-322.4),(-730,-323),(-729,-323),(-729.8,-323.6),(-729,-323.6),(-729.6,-324.2),(-728.8,-324.2),(-708.6,-323),
(-705.6,-324),(-747.6,-323.8),(-736.6,-324.4),(-735.6,-324.6),(-734.4,-323.8),(-734.6,-325),(-734.6,-326),(-733.4,-325.6),(-727.6,-321.6),(-733,-328),(-733,-328.8),(-726,-327.6),(-726,-329),(-724,-328.4),
(-722,-330.6),(-716.4,-332.4),(-737.6,-329),(-740.8,-328),(-744,-331.4),(-746,-331),(-737.4,-333),(-735,-332),(-731,-334),(-739.6,-334),(-734.8,-342.4),(-729.4,-343.6)]

m3_p06 = [(-733.4,-281.7),(-733.2,-284.2),(-730.4,-284.4),(-726,-284.8),(-725.6,-284.8),(-730,-285.8),(-728.4,-286.6),(-730,-288.6),(-727,-288.6),(-726,-289),(-726,-290),(-726,-291),(-727,-291),
(-725,-291),(-738,-291),(-738.6,-290.6),(-739.4,-291.6),(-740,-291.6),(-736,-291),(-741.2,-293),(-743.8,-294.2),(-742.4,-293),(-739,-294),(-731.2,-293.4),(-730.4,-293.4),(-729.6,-293.4),(-725,-292),
(-725.6,-295),(-725,-296),(-723.4,-296.6),(-735.4,-296),(-735.2,-297),(-734,-297),(-728.8,-297),(-727.4,-297.6),(-748.6,-298.4),(-745.6,-298.6),(-745.6,-299),(-731,-298),(-720,-298.6),(-719.6,-298.2),
(-722,-299.6),(-721.2,-300),(-722.6,-301),(-721.6,-301.2),(-721.4,-302),(-720.8,-300.6),(-743.6,-300.6),(-741,-300),(-733.6,-301),(-732.4,-303),(-731,-301.8),(-730.4,-303),(-725.2,-303.6),(-753,-304.4),
(-750.6,-303.6),(-725,-305.6),(-722.8,-305.4),(-721.4,-306),(-720.6,-305),(-718.8,-305.4),(-717.6,-306),(-711.8,-303.2),(-750,-306.4),(-747.4,-306),(-732.2,-308),(-731.2,-307),(-730.6,-308.2),(-731.6,-308.2),
(-734.8,-308.6),(-733.6,-309),(-724,-309),(-723.8,-310),(-720,-308.2),(-710.2,-309),(-707.6,-308),(-752,-309.8),(-746.4,-310),(-744,-311),(-739,-311.4),(-733,-313),(-713.4,-312.6),(-712.6,-312.6),(-712.6,-313.4),
(-752.2,-314),(-748,-313.2),(-746.8,-314.6),(-747,-315.2),(-730.8,-312.6),(-711,-313.8),(-708.4,-314),(-706.6,-314.6),(-756.8,-314.6),(-754.8,-316.4),(-753.4,-316.4),(-753.4,-317.4),(-750,-316.4),(-748,-316.6),
(-747.2,-316.8),(-760.8,-316),(-759,-316.8),(-763,-317.4),(-723.6,-316.6),(-723,-317),(-722.4,-317.4),(-719.6,-317.4),(-712.4,-316.4),(-709.2,-315.2),(-710.6,-317),(-704.4,-318),(-757.6,-319),(-757.6,-320),(-750.2,-319),
(-743.8,-317),(-737.8,-319),(-735.6,-319.4),(-735,-319.4),(-734,-319.4),(-727.4,-319.2),(-709.4,-319.6),(-706.6,-319.6),(-706.4,-320.4),(-714.2,-320.6),(-715,-321),(-752.6,-322.4),(-752.6,-323),(-750.2,-323),
(-748.6,-321.6),(-745.6,-321.8),(-741.4,-321.6),(-742.4,-322.6),(-741.6,-323.4),(-743,-323.4),(-747,-322.8),(-743.4,-324.4),(-733.6,-321.4),(-733,-322.6),(-732.4,-323),(-724.8,-322.4),(-724,-323),(-727,-323.4),
(-718.2,-323.4),(-716.8,-323.8),(-709.6,-322.6),(-709.6,-323.4),(-707,-324.2),(-735,-324.6),(-732.4,-325.4),(-721.6,-324.6),(-717.6,-325),(-717,-325),(-759,-323.4),(-757,-325.6),(-744,-326.6),(-741.2,-326.4),
(-740.8,-327),(-741,-327.8),(-738.6,-327),(-733.6,-326.2),(-731.4,-326.4),(-727.8,-327.4),(-727,-327.6),(-724.6,-326.4),(-716.6,-327.4),(-716.6,-328),(-755.8,-328.8),(-748.6,-328.6),(-728.6,-328.6),(-730,-328.6),
(-722,-326.8),(-720,-329.6),(-710.2,-326.6),(-713.2,-331),(-715,-332),(-743.6,-331.2),(-741,-330.6),(-740,-333),(-738.2,-332.4),(-734.4,-334.6),(-731.4,-334.4),(-726,-332.6),(-720.6,-333.6),(-717.8,-332.4),(-716.6,-333),
(-715,-333.6),(-719.6,-335),(-736,-335.6),(-734.6,-336),(-728.8,-337),(-726,-337),(-723.6,-337.2),(-723,-338),(-727,-338.8),(-730,-338.6),(-731,-341.4),(-730,-341.2),(-729.8,-342.2),(-726.4,-342.8),(-727.2,-343),(-727.8,-344),
(-727.6,-345),(-728.2,-345),(-730,-346.2)]
m2_p06 = [(-733,-281.7),(-729.8,-284.2),(-729,-288),(-733.4,-290.2),(-728,-290),(-725,-293),(-724.4,-293.6),(-723.8,-293.6),(-723.2,-294),(-724.4,-294.4),(-725,-295),(-724.4,-295),(-723.8,-295.6),(-723.2,-295),(-728,-293),(-731,-294),
(-730.6,-295),(-729.8,-296),(-727,-296),(-742,-295),(-741.2,-295),(-739.4,-293.8),(-738,-294),(-734,-294.6),(-733.4,-295.6),(-732.8,-296.4),(-742,-296.8),(-738.8,-296),(-738.2,-297),(-737.6,-297.8),(-734.4,-297.6),
(-733.8,-298.6),(-744.4,-297.6),(-730,-297.6),(-729.4,-298.6),(-740.8,-299.6),(-722.6,-299.8),(-722.8,-301),(-722,-300.6),(-721.6,-301),(-741.8,-301),(-741,-301),(-740.6,-301.6),(-741.4,-301.6),(-741,-302.2),
(-740.4,-302.2),(-739.8,-302.2),(-741.4,-302.8),(-740.8,-302.8),(-741,-303.4),(-740.4,-303.4),(-740.8,-304),(-740.2,-304),(-739.6,-303.2),(-739,-303.2),(-737.6,-302.2),(-736.6,-302.4),(-735.4,-302.2),(-746,-302.8),
(-745.2,-303.6),(-740,-305),(-739.4,-305),(-738.8,-305),(-739.4,-305.6),(-738.8,-305.6),(-738.2,-305.6),(-737.6,-305.6),(-739.4,-306.2),(-738.8,-306.2),(-738.2,-306.2),(-737.6,-306.2),(-739.4,-306.8),(-738.8,-306.8),
(-738.2,-306.8),(-737.6,-306.8),(-737,-306.8),(-738.8,-307.4),(-738.2,-307.4),(-737.6,-307.4),(-737,-307.4),(-738.8,-308),(-738.2,-308),(-737.6,-308),(-738.2,-308.6),(-737.6,-308.6),(-738.2,-309.2),(-737.6,-309.2),
(-737,-309.2),(-740,-309),(-743.4,-305.6),(-742,-306.6),(-741.4,-307.4),(-741.4,-309.8),(-740.4,-309.8),(-739.8,-310.4),(-739,-310.4),(-738,-310.4),(-738.6,-311),(-738,-311.6),(-739.6,-311.6),(-739,-312.2),
(-738.4,-312.2),(-739.2,-312.8),(-738.6,-313.4),(-746.6,-307.8),(-746,-307.8),(-745.4,-308.6),(-744.4,-308),(-748,-309.8),(-744.4,-310),(-743.6,-314),(-743,-314),(-742.4,-314.6),(-742.6,-315.4),(-742,-315.4),
(-741.6,-316),(-713.6,-305),(-712.8,-305.6),(-714,-307),(-712.4,-307),(-712,-307.8),(-711.2,-307.6),(-712.4,-308.4),(-705.8,-305.6),(-705.2,-306),(-704.8,-306.6),(-716.8,-310),(-712.8,-310.4),(-709.6,-311),
(-708,-310.6),(-705.2,-309.2),(-705.2,-310),(-705.2,-310.6),(-705.2,-311.2),(-705.2,-312),(-704.6,-312),(-703.4,-309.6),(-703,-310.4),(-702.2,-311),(-701.6,-313),(-706,-313),(-714.6,-313.6),(-754,-316),(-749.6,-316),
(-745.2,-316.8),(-744.4,-317),(-730.4,-316),(-729.6,-315.4),(-722.6,-316.6),(-705.4,-317.6),(-705,-318.6),(-701,-318.8),(-740.6,-319.8),(-740.6,-320.4),(-740,-320.8),(-733.8,-319.6),(-751.6,-321.6),(-750.6,-321.6),
(-743,-321.8),(-730.8,-321.6),(-730,-321.6),(-729.4,-322.6),(-730.6,-322.8),(-727.6,-320),(-727.2,-323),(-711.4,-321),(-707.6,-321.8),(-726.4,-323.8),(-760,-323),(-742.6,-325.2),(-740.8,-325),(-739.2,-325),(-733,-325),
(-733.6,-325.2),(-732.2,-326.2),(-726.6,-326),(-726.6,-326.8),(-728,-325.6),(-718,-326.6),(-719,-327.8),(-718.8,-328.4),(-739.2,-334),(-742,-331.6),(-743.4,-333),(-742,-334),(-739.6,-335.6),(-736.6,-336),(-734,-337),
(-729.5,-333.8),(-721,-330),(-719.6,-329),(-721.2,-337),(-722.2,-339),(-732.4,-341.6),(-729,-342.6)]

m3_p12 = [(-732.2,-283.6),(-735,-285),(-733.8,-285),(-730,-285),(-729.8,-287),(-730.2,-288),(-729.2,-287.4),(-727.6,-289),(-728,-288.6),(-734.8,-288.4),(-733.4,-289),(-727.8,-288.4),(-727.2,-288.8),(-729.2,-290),(-729.2,-290.6),
(-740.6,-290.6),(-738,-290.2),(-736,-291),(-735.8,-293),(-733.4,-293.4),(-732,-292.2),(-730.6,-291.6),(-729.8,-293),(-729,-292.8),(-724.8,-292),(-723.6,-293),(-719,-292.4),(-718.2,-293),(-715,-295.8),(-736,-294.6),
(-735.4,-295.6),(-748.4,-297.4),(-747.2,-297.4),(-749.8,-300.4),(-747.4,-300),(-735,-299),(-733.8,-297),(-722.6,-298),(-722,-300),(-722.4,-300.8),(-716.8,-300),(-741.4,-300),(-739.4,-300),(-738.2,-300.4),(-734.2,-300),
(-733.4,-300.8),(-727.2,-301.4),(-722.8,-301),(-714.6,-303),(-715,-302),(-727.4,-302.8),(-719.6,-302.8),(-729,-304.2),(-738.2,-304.4),(-737.8,-304.8),(-740.4,-306.2),(-753.8,-305.6),(-753.2,-305.6),(-752.4,-305.6),
(-754.4,-306.4),(-741.6,-307),(-740.8,-307.4),(-736,-306),(-735.2,-305),(-735,-307.6),(-734.6,-308.6),(-756.8,-309),(-756,-309),(-757.6,-310),(-708.4,-306.4),(-713.6,-310),(-712.6,-309),(-729.8,-309.6),(-724,-309.6),
(-723.4,-309.6),(-745,-309.6),(-743.4,-309.6),(-741.8,-311),(-741.4,-312.2),(-735.4,-310.8),(-734.6,-310),(-704.4,-312.4),(-712.4,-312.4),(-712,-315.2),(-720,-314.6),(-718.6,-315.2),(-732.8,-314.2),(-732.8,-315),
(-733.4,-316),(-760,-315.8),(-760,-316.4),(-762,-316.4),(-764,-316.6),(-751.4,-315.8),(-747,-315.8),(-743.4,-316.4),(-739,-316.6),(-737.4,-316.2),(-735.4,-316.4),(-735.4,-317),(-727,-317.6),(-729,-316.4),(-710.4,-316.4),
(-762.6,-318.4),(-748,-317.6),(-748.6,-318),(-743.4,-317.6),(-733.6,-317.8),(-735.6,-319),(-724.8,-319.8),(-723.6,-321),(-723.6,-322),(-719.6,-319),(-716.8,-320),(-712,-320),(-755,-320),(-752.6,-321),(-748,-322.4),
(-757,-322),(-754.8,-322),(-746.2,-322.4),(-745.6,-324),(-738.2,-323.8),(-737.4,-324.6),(-720,-323.6),(-717.6,-324),(-716.6,-323),(-710.4,-323.4),(-757,-323.4),(-751.6,-324.8),(-751.6,-325.6),(-751.6,-326.2),(-744,-326.2),
(-742.6,-326.8),(-743.8,-327.6),(-740,-326.6),(-738.6,-326),(-727.4,-325.8),(-725.2,-326),(-748.4,-328),(-744.6,-330),(-743.8,-330),(-743,-330),(-743.4,-331.6),(-732,-332.4),(-732,-331),(-727.4,-330.8),(-725.8,-331.2),(-726,-330),
(-719.4,-329.6),(-714.6,-331),(-716,-331),(-716,-332),(-715.6,-333),(-735,-334),(-737,-336),(-730,-337),(-728.2,-338),(-736,-339),(-734.6,-339),(-728.4,-340),(-721,-340),(-722.4,-339),(-721.4,-341),(-734.4,-343),(-725.2,-345)]
m2_p12 = [(-733.8,-281.8),(-736.6,-284.4),(-729.6,-287.2),(-729,-288),(-729.6,-289.4),(-737.6,-289.6),(-738,-290),(-740,-291),(-738.2,-292),(-737.8,-292.4),(-730.6,-293.4),(-729.6,-294),(-728.8,-295.8),(-727.6,-293),(-725.4,-292.8),
(-724,-295),(-738.8,-293.6),(-739,-295.4),(-736.8,-295),(-720.2,-298.2),(-735.2,-304),(-733,-301),(-729.8,-304.4),(-728.6,-305.2),(-727.8,-305.4),(-755.8,-310.4),(-708.7,-308.5),(-735.2,-309),(-712,-309.6),(-760.4,-317.2),(-749.2,-317.6),
(-742,-316.4),(-745,-318.4),(-730,-312.8),(-730,-321.6),(-752.8,-322),(-752.8,-323.4),(-746.2,-320.6),(-747.8,-320.8),(-745,-320),(-748,-325.2),(-749.8,-327),(-746,-325),(-744.4,-325),(-742.2,-324.8),(-721.6,-321.6),(-717.4,-322),
(-716,-326),(-715.2,-327),(-714,-328),(-713,-329),(-714.2,-329),(-708.6,-325.2),(-704.6,-325),(-740,-322.2),(-739.8,-323),(-727,-325),(-716,-326.8),(-715.6,-328),(-730,-325),(-721.6,-325),(-747,-330),(-746,-328),(-754,-328),
(-712,-333),(-712.4,-334),(-715,-335),(-718.6,-335),(-718,-336),(-738.2,-335),(-734.6,-337.5),(-733,-339.6),(-733,-337),(-728.4,-343.4),(-733,-344.4),(-749,-331)]

m3_cells = [m3_n12, m3_n08, m3_n06, m3_n04, m3_n02, m3_00, m3_p02, m3_p04, m3_p06, m3_p12]
m2_cells = [m2_n12, m2_n08, m2_n06, m2_n04, m2_n02, m2_00, m2_p02, m2_p04, m2_p06, m2_p12]

# intensity contours, the same on every panel
contours = [
    [(-738,-287.2),(-735.3,-286.9),(-734.3,-285.2),(-733.4,-285.5),(-733.1,-287.6),(-731.3,-288),(-730.2,-290.1),(-728.2,-290.8),(-726.6,-291.8),(-725.5,-291.8),
     (-724.6,-295.6),(-723.3,-296.9),(-722.2,-294.8),(-723.7,-292.3),(-725.3,-289.7),(-723.3,-288)],
    [(-741.3,-288.9),(-740.2,-289.7),(-738.9,-288.9),(-739.4,-290.1),(-737.8,-291),(-736.7,-291.8),(-736.2,-290.1)],
    [(-726,-306.2),(-725.1,-302),(-722.8,-302),(-720.2,-303.3),(-719.7,-305),(-721.5,-304.5),(-724.2,-305),(-726,-306.2)],
    [(-730.4,-310.9),(-729.1,-309.6),(-726.4,-309.2),(-726,-311.3),(-724.6,-310),(-720.2,-310.5),(-718.4,-314.7),(-716.1,-319.4),(-720.6,-318.5),(-723.7,-317.3),
     (-725.1,-313.9),(-728.2,-312.2),(-730.4,-310.9)],
    [(-752.8,-302.4),(-754.1,-304.5),(-753.8,-307.9),(-751.9,-309.2),(-749.6,-311.3),(-751,-314.3),(-753.6,-313),(-755.4,-311.3),(-755.7,-315.6),(-754.1,-316),
     (-752.8,-317.7),(-751.9,-316),(-749.2,-316.8),(-747.8,-318.9),(-744.3,-321.1),(-740.3,-321.1),(-738.5,-318.9),(-737.6,-319.8),(-739.4,-322.3),(-739.6,-326.6),
     (-738,-329.1),(-735.3,-331.7),(-733.1,-334.2),(-729.1,-334.2),(-727.3,-331.7),(-724.6,-330),(-722,-329.1),(-723.7,-324.9),(-722.4,-323.6),(-725.1,-319.8),(-726.4,-318.1)],
    [(-714.8,-305),(-713,-305.4),(-711.7,-307.8)],
    [(-714.4,-309.2),(-712.6,-308.8),(-711.2,-310.5),(-711.7,-312.2),(-714.4,-312.2),(-714.4,-309.2)],
    [(-713,-313.9),(-710.8,-313.4),(-708.6,-314.7),(-709.9,-315.6),(-710.3,-317.7),(-712.1,-316),(-713,-313.9)],
]
loop_x = [-732.5,-734.7,-731.5,-735.6,-725.5,-727.3,-722.1,-749.9,-747.1,-751,-749.4,-735.8,-733.6,-735.5,-728.6,-724.8,-727.9,-724,-718.8,-750.1]
loop_y = [-324.2,-325.7,-325.9,-327.7,-326.4,-327,-315.1,-313.7,-317.7,-306.2,-303.4,-290.3,-290.1,-293.1,-294.8,-299.9,-302.3,-310.5,-307.8,-321.5]
loop_w = [1.8,1.6,1.0,1.6,1.1,1.1,1.3,1.0,1.1,1.0,1.0,1.0,0.8,0.9,2.6,1.2,1.7,1.2,0.7,1.8]
loop_h = [1.8,1.6,1.7,1.6,1.7,1.7,1.4,1.1,1.1,1.1,1.0,1.0,2.3,2.3,2.4,2.8,1.3,3.5,3.5,0.6]
loop_a = [0,30,0,30,0,0,0,0,0,0,0,0,-40,-40,0,-35,0,0,35,0]

# white dotted ring and the small cluster below it
ring_x = [-742,-741.1,-743.4,-744.3,-744.7,-745.6,-746.9,-747.4,-748.3,-747.4,-746.5,-745.6,-744.4,-745.6,-744.4,-745.6,-744.5,-742.9,-741.8,-740.7,-739.4,-738,-736.7,
          -735.8,-734.9,-735.2,-735.3,-735.6,-735.6,-735.3,-734.4,-733.6,-734.9,-734.4,-733.1,-732.5,-734.4,-735.8,-737.1,-738,-739.4,
          -729.1,-728.2,-728.9,-728.2,-729.1,-728.4,-729.3]
ring_y = [-299.9,-300.3,-300.7,-302.8,-303.7,-304.5,-305,-306.2,-307.8,-309.6,-310,-309.2,-309.8,-311.3,-312.2,-313,-313.4,-311.2,-312,-311.6,-311.6,-311.6,-311.6,
          -310.9,-310,-308.4,-307.1,-305.8,-304.5,-303.3,-302.8,-302.8,-302,-300.7,-299.9,-298.8,-298.8,-298.8,-298.6,-299.5,-300.3,
          -316.4,-316.4,-317.3,-317.7,-318.5,-318.8,-319.8]

# grid the maps are sampled on
nx = 115
ny = 108
dx = (xlim[1] - xlim[0]) / nx
dy = (ylim[1] - ylim[0]) / ny


def to_col(x):
    return (np.asarray(x) - xlim[0]) / dx


def to_row(y):
    return (ylim[1] - np.asarray(y)) / dy


def make_map(m2, m3):
    cols, rows = np.meshgrid(np.arange(nx) + 0.5, np.arange(ny) + 0.5)
    corners = np.column_stack([to_col(diamond_x), to_row(diamond_y)])
    inside = Path(corners).contains_points(np.column_stack([cols.ravel(), rows.ravel()]))
    grid = np.where(inside.reshape(cols.shape), 0.0, np.nan)
    for value, cells in [(1.0, m2), (2.0, m3)]:
        for x, y in cells:
            c, r = int(to_col(x)), int(to_row(y))
            if 0 <= c < nx and 0 <= r < ny and not np.isnan(grid[r, c]):
                grid[r, c] = value
    return pd.DataFrame(grid)


sns.set_theme(style="ticks")
plt.rcParams["font.family"] = ["DejaVu Serif"]
plt.rcParams["axes.linewidth"] = 1.0

W, H = 1660, 717
fig = plt.figure(figsize=(W / 100, H / 100), dpi=100)
cmap = ListedColormap(colors)

left, panel_w = 107.7, 291.2
tops = [65.0, 354.0]
panel_h = 288.85

for i, label in enumerate(labels):
    row, col = divmod(i, 5)
    ax = fig.add_axes([(left + col * panel_w) / W, 1 - (tops[row] + panel_h) / H, panel_w / W, panel_h / H])
    sns.heatmap(make_map(m2_cells[i], m3_cells[i]), ax=ax, cmap=cmap, vmin=-0.5, vmax=2.5, cbar=False,
                xticklabels=False, yticklabels=False)

    for line in contours:
        xs, ys = zip(*line)
        ax.plot(to_col(xs), to_row(ys), color="#58A3D6", lw=0.5, zorder=3)
    for x, y, w, h, a in zip(loop_x, loop_y, loop_w, loop_h, loop_a):
        ax.add_patch(Ellipse((to_col(x), to_row(y)), w / dx, h / dy, angle=a, fill=False, ec="#58A3D6", lw=0.5, zorder=3))
    sns.scatterplot(x=to_col(ring_x), y=to_row(ring_y), ax=ax, color="#CFE8F5", s=2.5, linewidth=0, zorder=4, legend=False)

    ax.set_xlim(0, nx)
    ax.set_ylim(ny, 0)
    for s in ax.spines.values():
        s.set_visible(True)
        s.set_color("#222222")
        s.set_linewidth(1.0)

    ax.set_xticks(to_col(x_minor), minor=True)
    ax.set_yticks(to_row(y_minor), minor=True)
    if row == 1:
        ax.set_xticks(to_col(x_major), [f"−{abs(v)}" for v in x_major])
    else:
        ax.set_xticks([])
        ax.set_xticks([], minor=True)
    if col == 0:
        ax.set_yticks(to_row(y_major), [f"−{abs(v)}" for v in y_major])
    else:
        ax.set_yticks([])
        ax.set_yticks([], minor=True)
    ax.tick_params(axis="both", which="major", length=5, width=1, labelsize=14, color="#222222", labelcolor="#111111",
                   bottom=row == 1, left=col == 0, pad=3.5)
    ax.tick_params(axis="both", which="minor", length=3, width=0.8, color="#222222", bottom=row == 1, left=col == 0)
    ax.tick_params(axis="x", labelrotation=0)
    ax.tick_params(axis="y", labelrotation=0)
    ax.set_xlabel("")
    ax.set_ylabel("")
    ax.text(0.915, 0.83, label, transform=ax.transAxes, ha="right", va="baseline", fontsize=15, color="#111111", zorder=5)

# model legend, one cell per model
cax = fig.add_axes([1563.5 / W, 1 - 537.7 / H, 37.5 / W, 375 / H])
sns.heatmap(pd.DataFrame({"model": [2, 1, 0]}), ax=cax, cmap=cmap, vmin=-0.5, vmax=2.5, cbar=False,
            xticklabels=False, yticklabels=models[::-1])
cax.yaxis.tick_right()
cax.tick_params(axis="y", length=0, labelsize=18, labelrotation=0, pad=3, labelcolor="#111111")
for s in cax.spines.values():
    s.set_visible(True)
    s.set_color("#222222")
    s.set_linewidth(1.0)

fig.text(807 / W, 1 - 30 / H, "Hα pre-flare, preferred models", ha="center", va="center", fontsize=25, color="#111111")
fig.text(835 / W, 1 - 690 / H, "Solar X [arcsec]", ha="center", va="center", fontsize=17.4, color="#111111")
fig.text(23 / W, 1 - 498 / H, "Solar Y [arcsec]", ha="center", va="center", rotation=90, fontsize=17.4, color="#111111")

fig.savefig("out.png", dpi=100)
